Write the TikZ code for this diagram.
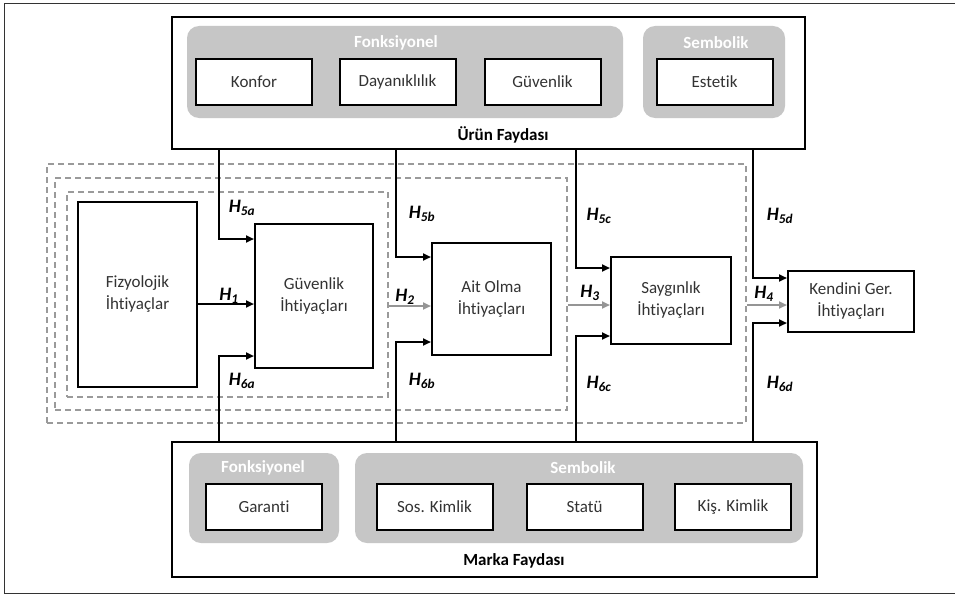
\documentclass[tikz,border=0pt]{standalone}
\usepackage{fontspec}
\setmainfont{Carlito}[Ligatures=NoCommon]
\usetikzlibrary{arrows.meta,calc}
\definecolor{grpfill}{HTML}{C6C6C6}
\definecolor{dashgray}{HTML}{9A9A9A}
\definecolor{arrgray}{HTML}{959595}
\begin{document}
\begin{tikzpicture}[x=1pt,y=-1pt,
 every node/.style={font=\fontsize{17}{22}\selectfont, text=black!80, inner sep=0pt},
 panel/.style={draw=black, line width=2pt, fill=white, rectangle},
 grp/.style={fill=grpfill, rounded corners=12pt, rectangle},
 grplbl/.style={text=white, font=\fontsize{17}{22}\selectfont\bfseries},
 panellbl/.style={text=black, font=\fontsize{17}{22}\selectfont\bfseries},
 item/.style={draw=black, line width=2pt, fill=white, rectangle, minimum width=116pt, minimum height=46pt},
 need/.style={draw=black, line width=2pt, fill=white, rectangle, align=center},
 zone/.style={draw=dashgray, line width=1.5pt, dash pattern=on 6pt off 4pt, rectangle},
 link/.style={draw=black, line width=2pt, -{Triangle[length=8pt,width=7pt]}},
 glink/.style={draw=arrgray, line width=2pt, -{Triangle[length=8pt,width=7pt]}},
 hlbl/.style={font=\fontsize{19}{20}\selectfont\bfseries\itshape, text=black}
]
\useasboundingbox (0,0) rectangle (955,594);
% outer frame
\draw[black!80, line width=1pt] (4,4) rectangle (985,593);

% ---------- top panel ----------
\node[panel, minimum width=633pt, minimum height=132pt] (urun) at (488.5,83) {};
\node[grp, minimum width=436pt, minimum height=92pt] (fg1) at (405,72) {};
\node[grp, minimum width=142pt, minimum height=92pt] (sg1) at (714,72) {};
\node[grplbl] (fg1l) at (396,43) {Fonksiyonel};
\node[grplbl] (sg1l) at (716,43) {Sembolik};
\node[item] (konfor) at (254,82) {Konfor};
\node[item] (dayan) at (397.5,82) {Dayanıklılık};
\node[item] (guv) at (542.5,82) {Güvenlik};
\node[item] (estetik) at (714.5,82) {Estetik};
\node[panellbl] (urunl) at (503,135) {Ürün Faydası};

% ---------- bottom panel ----------
\node[panel, minimum width=645pt, minimum height=135pt] (marka) at (494.5,509.5) {};
\node[grp, minimum width=150pt, minimum height=90pt] (fg2) at (264,498) {};
\node[grp, minimum width=448pt, minimum height=90pt] (sg2) at (579,498) {};
\node[grplbl] (fg2l) at (263,468) {Fonksiyonel};
\node[grplbl] (sg2l) at (583,468) {Sembolik};
\node[item] (garanti) at (264,507) {Garanti};
\node[item] (sos) at (434.5,507) {Sos. Kimlik};
\node[item] (statu) at (584.5,507) {Statü};
\node[item] (kis) at (733,507) {Kiş. Kimlik};
\node[panellbl] (markal) at (514,561) {Marka Faydası};

% ---------- dashed zones ----------
\node[zone, minimum width=699pt, minimum height=259pt] (d1) at (396.5,293.5) {};
\node[zone, minimum width=512pt, minimum height=232pt] (d2) at (311,294) {};
\node[zone, minimum width=321pt, minimum height=205pt] (d3) at (227.5,294.5) {};

% ---------- needs ----------
\node[need, minimum width=119pt, minimum height=185pt] (fiz) at (137.5,294.5) {Fizyolojik\\İhtiyaçlar};
\node[need, minimum width=118pt, minimum height=144pt] (guvI) at (314,296) {Güvenlik\\İhtiyaçları};
\node[need, minimum width=119pt, minimum height=112pt] (ait) at (491.5,299) {Ait Olma\\İhtiyaçları};
\node[need, minimum width=120pt, minimum height=87pt] (say) at (671,300.5) {Saygınlık\\İhtiyaçları};
\node[need, minimum width=126pt, minimum height=61pt] (ken) at (851,301.5) {Kendini Ger.\\İhtiyaçları};

% ---------- bend points ----------
\coordinate (c5a) at (219,239);
\coordinate (c5b) at (396,257);
\coordinate (c5c) at (576,268);
\coordinate (c5d) at (753,278);
\coordinate (c6a) at (219,356);
\coordinate (c6b) at (396,342);
\coordinate (c6c) at (576,336);
\coordinate (c6d) at (753,323);
\coordinate (y1) at (0,304);
\coordinate (y2) at (0,306);
\coordinate (y3) at (0,305);
\coordinate (y4) at (0,305);

% ---------- connectors ----------
\draw[link] (fiz.east |- y1) -- (guvI.west |- y1);
\draw[glink] (d3.east |- y2) -- (ait.west |- y2);
\draw[glink] (d2.east |- y3) -- (say.west |- y3);
\draw[glink] (d1.east |- y4) -- (ken.west |- y4);

\draw[link] (urun.south -| c5a) |- (guvI.west |- c5a);
\draw[link] (urun.south -| c5b) |- (ait.west |- c5b);
\draw[link] (urun.south -| c5c) |- (say.west |- c5c);
\draw[link] (urun.south -| c5d) |- (ken.west |- c5d);
\draw[link] (marka.north -| c6a) |- (guvI.west |- c6a);
\draw[link] (marka.north -| c6b) |- (ait.west |- c6b);
\draw[link] (marka.north -| c6c) |- (say.west |- c6c);
\draw[link] (marka.north -| c6d) |- (ken.west |- c6d);

% ---------- labels ----------
\node[hlbl] (h1) at (229,296) {H\textsubscript{1}};
\node[hlbl] (h2) at (405,297) {H\textsubscript{2}};
\node[hlbl] (h3) at (590,293) {H\textsubscript{3}};
\node[hlbl] (h4) at (764,294) {H\textsubscript{4}};
\node[hlbl] (h5a) at (242,208) {H\textsubscript{5a}};
\node[hlbl] (h5b) at (422,214) {H\textsubscript{5b}};
\node[hlbl] (h5c) at (599,216) {H\textsubscript{5c}};
\node[hlbl] (h5d) at (780,216) {H\textsubscript{5d}};
\node[hlbl] (h6a) at (242,381) {H\textsubscript{6a}};
\node[hlbl] (h6b) at (422,381) {H\textsubscript{6b}};
\node[hlbl] (h6c) at (599,384) {H\textsubscript{6c}};
\node[hlbl] (h6d) at (780,384) {H\textsubscript{6d}};
\end{tikzpicture}
\end{document}
